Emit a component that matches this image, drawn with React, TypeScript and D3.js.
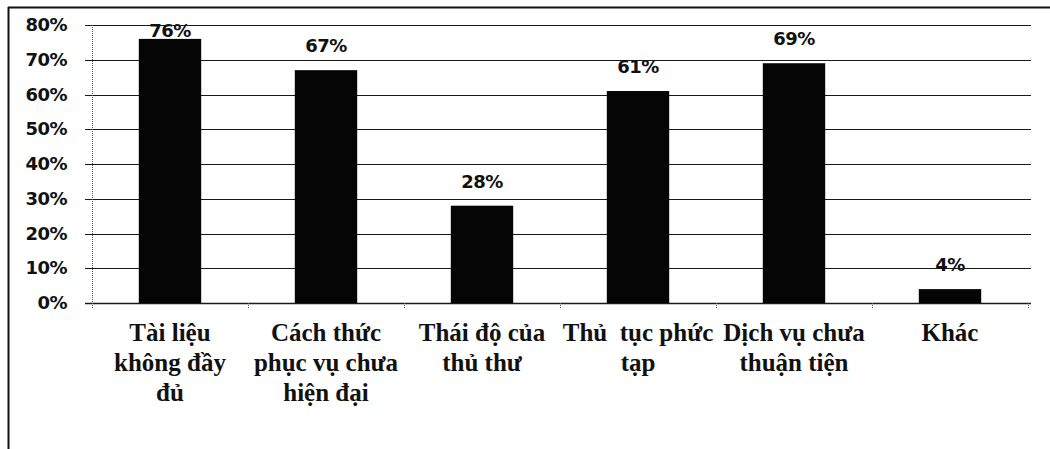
import React from 'react';
import * as d3 from 'd3';

const categories = [
  ['Tài liệu', 'không đầy', 'đủ'],
  ['Cách thức', 'phục vụ chưa', 'hiện đại'],
  ['Thái độ của', 'thủ thư'],
  ['Thủ  tục phức', 'tạp'],
  ['Dịch vụ chưa', 'thuận tiện'],
  ['Khác'],
];
const values = [0.76, 0.67, 0.28, 0.61, 0.69, 0.04];
const yTicks = [0, 0.1, 0.2, 0.3, 0.4, 0.5, 0.6, 0.7, 0.8];

export default function App() {
  const width = 1050;
  const height = 449;
  const plotLeft = 92, plotRight = 1028, plotTop = 25, plotBottom = 303;

  const x = d3.scaleBand<number>()
    .domain(d3.range(values.length))
    .range([plotLeft, plotRight])
    .padding(0);
  const y = d3.scaleLinear().domain([0, 0.8]).range([plotBottom, plotTop]);
  const barW = x.bandwidth() * 0.4;
  const fmt = d3.format('.0%');
  const numFont = '"DejaVu Sans", sans-serif';
  const catFont = '"Liberation Serif", "Times New Roman", serif';

  return (
    <div style={{ position: 'absolute', left: 0, top: 0, width, height, background: '#fff' }}>
      <svg width={width} height={height} style={{ display: 'block' }}>
        {/* chart border */}
        <line x1={8} x2={width} y1={7.5} y2={7.5} stroke="#111" strokeWidth={2} />
        <line x1={8.5} x2={8.5} y1={7} y2={height} stroke="#111" strokeWidth={2} />

        {/* gridlines */}
        {yTicks.map(t => (
          <g key={t}>
            <line x1={plotLeft - 7} x2={plotRight + 3} y1={Math.round(y(t)) + 0.5} y2={Math.round(y(t)) + 0.5}
              stroke="#1a1a1a" strokeWidth={t === 0 ? 1.3 : 1} />
            <text x={67} y={y(t) + 6} textAnchor="end" fontFamily={numFont} fontWeight="bold"
              fontSize={18} fill="#111" letterSpacing={-0.5}>{fmt(t)}</text>
          </g>
        ))}

        {/* y axis */}
        <line x1={plotLeft + 0.5} x2={plotLeft + 0.5} y1={plotTop} y2={plotBottom + 4}
          stroke="#555" strokeWidth={1} strokeDasharray="1,1" />

        {/* x ticks */}
        {d3.range(values.length + 1).map(i => {
          const tx = plotLeft + i * x.step();
          return <line key={i} x1={tx + 0.5} x2={tx + 0.5} y1={plotBottom} y2={plotBottom + 5}
            stroke="#555" strokeWidth={1} strokeDasharray="1,1" />;
        })}

        {/* bars */}
        {values.map((v, i) => {
          const cx = x(i)! + x.bandwidth() / 2;
          const top = y(v);
          const labelY = Math.max(top - 18, 37);
          return (
            <g key={i}>
              <rect x={cx - barW / 2} y={top} width={barW} height={plotBottom - top} fill="#050505" />
              <text x={cx} y={labelY} textAnchor="middle" fontFamily={numFont} fontWeight="bold"
                fontSize={18} fill="#111" letterSpacing={-0.5}>{fmt(v)}</text>
            </g>
          );
        })}

        {/* category labels */}
        {categories.map((lines, i) => {
          const cx = x(i)! + x.bandwidth() / 2;
          return (
            <text key={i} x={cx} y={341} textAnchor="middle" fontFamily={catFont} fontWeight="bold"
              fontSize={25} fill="#111" style={{ whiteSpace: 'pre' }}>
              {lines.map((l, j) => (
                <tspan key={j} x={cx} dy={j === 0 ? 0 : 30}>{l}</tspan>
              ))}
            </text>
          );
        })}
      </svg>
    </div>
  );
}
